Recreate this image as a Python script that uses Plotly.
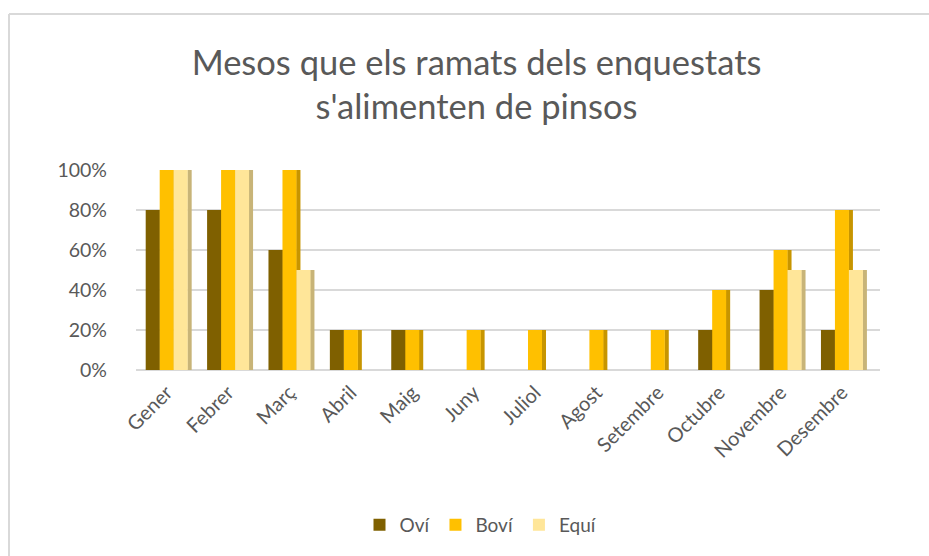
import plotly.graph_objects as go

months = ["Gener", "Febrer", "Març", "Abril", "Maig", "Juny", "Juliol",
          "Agost", "Setembre", "Octubre", "Novembre", "Desembre"]
ovi = [0.8, 0.8, 0.6, 0.2, 0.2, 0, 0, 0, 0, 0.2, 0.4, 0.2]
bovi = [1.0, 1.0, 1.0, 0.2, 0.2, 0.2, 0.2, 0.2, 0.2, 0.4, 0.6, 0.8]
equi = [1.0, 1.0, 0.5, 0, 0, 0, 0, 0, 0, 0, 0.5, 0.5]

series = [
    ("Oví", ovi, "#7f6000", "#5a4400"),
    ("Boví", bovi, "#ffc000", "#c79500"),
    ("Equí", equi, "#ffe699", "#c8b478"),
]

W = 0.228   # front face width (category units)
SIDE = 0.07  # side face width
start = -1.5 * W

FONT = "Lato"
TXT = "#595959"

L, R, T, B = 136, 49, 170, 186
PW, PH = 929 - L - R, 556 - T - B

fig = go.Figure()
# side faces first (darker), so the next bar's front covers them
for i, (name, vals, col, dark) in enumerate(series):
    fig.add_trace(go.Bar(
        x=months, y=vals, name=name + " side", showlegend=False,
        offset=start + (i + 1) * W - 0.005, width=SIDE,
        marker=dict(color=dark, line=dict(width=0)), hoverinfo="skip",
        cliponaxis=False))
for i, (name, vals, col, dark) in enumerate(series):
    fig.add_trace(go.Bar(
        x=months, y=vals, name=name,
        offset=start + i * W, width=W,
        marker=dict(color=col, line=dict(width=0)), cliponaxis=False))

fig.update_layout(
    width=929, height=556,
    barmode="overlay",
    paper_bgcolor="white", plot_bgcolor="white",
    margin=dict(l=L, r=R, t=T, b=B, autoexpand=False),
    font=dict(family=FONT, color=TXT, size=19),
    title=dict(text="Mesos que els ramats dels enquestats<br>s'alimenten de pinsos",
               x=0.513, xanchor="center", y=0.866, yanchor="middle",
               font=dict(family=FONT, size=34.5, color=TXT)),
    xaxis=dict(showgrid=False, showline=False, ticks="", tickangle=-45,
               range=[-0.5, 11.62],
               tickfont=dict(size=20, color=TXT), ticklabelstandoff=6),
    yaxis=dict(range=[0, 1.0], tickvals=[0, 0.2, 0.4, 0.6, 0.8, 1.0],
               tickformat=".0%", showgrid=True, gridcolor="#d9d9d9",
               gridwidth=1.5, zeroline=True, zerolinecolor="#d9d9d9",
               zerolinewidth=1.5, showline=False, ticklabelstandoff=28,
               tickfont=dict(size=19.5, color=TXT)),
    legend=dict(orientation="h", x=(481 - L) / PW, xanchor="center",
                y=-(525 - (T + PH)) / PH,
                yanchor="middle", font=dict(size=19, color=TXT),
                traceorder="normal", itemwidth=30),
    shapes=[
        dict(type="line", xref="paper", yref="paper",
             x0=-(L - 9) / PW, x1=(929 - L) / PW + 0.01,
             y0=1 + (T - 14) / PH, y1=1 + (T - 14) / PH,
             line=dict(color="#d9d9d9", width=2)),
        dict(type="line", xref="paper", yref="paper",
             x0=-(L - 9) / PW, x1=-(L - 9) / PW,
             y0=1 + (T - 14) / PH, y1=-B / PH - 0.05,
             line=dict(color="#d9d9d9", width=2)),
    ],
)

fig.write_html("out.html",
               config={"displayModeBar": False},
               post_script="document.body.style.margin='0';"
                           "document.body.style.overflow='hidden';")
